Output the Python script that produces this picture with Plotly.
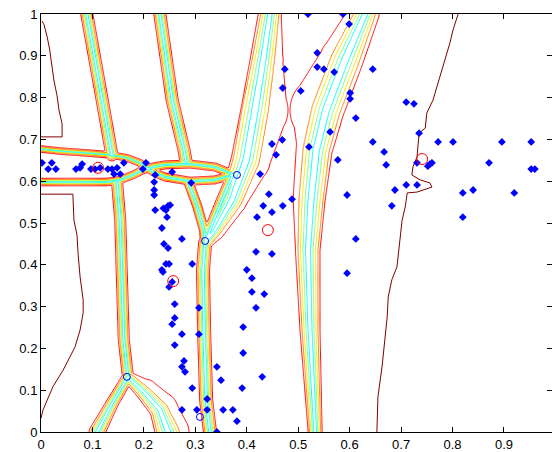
import numpy as np
import plotly.graph_objects as go

# ---------------- data ----------------
pts_x = [0.002,0.014,0.021,0.029,0.068,0.076,0.080,0.097,0.105,0.115,0.130,0.138,0.142,0.148,0.154,0.161,
         0.198,0.204,0.222,0.220,0.220,0.220,0.222,0.238,0.243,0.247,0.251,0.245,0.235,0.274,0.239,0.247,
         0.243,0.249,0.237,0.235,0.255,0.249,0.294,0.260,0.255,0.260,0.307,0.307,0.274,0.260,0.278,0.274,
         0.280,0.294,0.274,0.303,0.342,0.350,0.323,0.323,0.354,0.373,0.381,0.342,0.400,0.410,0.410,0.418,
         0.449,0.418,0.434,0.393,0.393,0.391,0.430,0.612,0.595,0.420,0.432,0.449,0.443,0.426,0.449,0.457,
         0.469,0.521,0.488,0.562,0.577,0.470,0.595,0.519,0.587,0.599,0.537,0.474,0.537,0.550,0.570,0.645,
         0.470,0.505,0.601,0.601,0.612,0.710,0.725,0.735,0.645,0.667,0.671,0.731,0.752,0.756,0.760,0.772,
         0.801,0.896,0.953,0.871,0.953,0.960,0.710,0.731,0.688,0.682,0.820,0.840,0.920,0.820,0.255,0.292]
pts_y = [0.644,0.629,0.644,0.629,0.629,0.632,0.641,0.629,0.629,0.632,0.629,0.629,0.617,0.632,0.617,0.644,
         0.629,0.644,0.615,0.598,0.579,0.567,0.531,0.535,0.531,0.541,0.543,0.514,0.488,0.462,0.450,0.440,
         0.402,0.402,0.383,0.388,0.359,0.347,0.402,0.306,0.258,0.273,0.297,0.234,0.234,0.208,0.170,0.156,
         0.144,0.105,0.053,0.053,0.156,0.124,0.079,0.053,0.053,0.053,0.026,0.000,0.388,0.368,0.335,0.297,
         0.426,0.431,0.330,0.251,0.189,0.105,0.132,0.462,0.380,0.514,0.541,0.526,0.569,0.617,0.689,0.663,
         0.699,0.682,0.557,0.718,0.651,0.541,0.567,1.000,1.000,0.976,0.907,0.868,0.873,0.868,0.861,0.868,
         0.823,0.816,0.811,0.797,0.751,0.789,0.785,0.715,0.694,0.670,0.639,0.644,0.636,0.641,0.644,0.694,
         0.694,0.694,0.694,0.644,0.629,0.629,0.591,0.591,0.579,0.541,0.572,0.579,0.572,0.514,0.622,0.596]

centers_x = [0.111, 0.257, 0.441, 0.741]
centers_y = [0.632, 0.361, 0.483, 0.653]

rings_x = [0.381, 0.319, 0.167, 0.309]
rings_y = [0.615, 0.457, 0.132, 0.036]

# outermost (dark red) iso-lines
dr1_x = [0.000,0.041,0.041,0.035,0.031,0.025,0.021,0.017,0.012,0.006,0.002]
dr1_y = [0.706,0.706,0.737,0.770,0.806,0.842,0.878,0.914,0.945,0.974,0.983]
dr2_x = [0.000,0.062,0.064,0.070,0.072,0.076,0.082,0.082,0.076,0.066,0.056,0.043,0.023,0.012,0.004,0.000]
dr2_y = [0.569,0.569,0.507,0.471,0.428,0.371,0.316,0.285,0.244,0.203,0.179,0.148,0.108,0.077,0.053,0.033]
dr3_x = [0.811,0.801,0.795,0.781,0.770,0.762,0.750,0.747,0.735,0.733,0.731,0.723,0.721,0.737,0.756,0.760,
         0.731,0.712,0.708,0.702,0.696,0.692,0.682,0.675,0.673,0.669,0.663,0.655,0.653,0.653]
dr3_y = [1.000,0.962,0.931,0.873,0.825,0.794,0.763,0.727,0.715,0.682,0.658,0.634,0.615,0.603,0.596,0.586,
         0.574,0.572,0.538,0.507,0.443,0.395,0.364,0.323,0.275,0.227,0.156,0.084,0.029,0.000]

# ridge (valley) centre lines of the contoured field, with band half-widths
# (inner colour band, red line on west/lower side, red line on east/upper side)
ridges = {
    "r1": dict(x=[0.089,0.119,0.136,0.138], y=[1.0,0.794,0.675,0.663],
               w_in=[0.0108]*4, w_neg=[0.0144]*4, w_pos=[0.0144]*4),
    "r2": dict(x=[0.231,0.255,0.278,0.282], y=[1.0,0.794,0.675,0.646],
               w_in=[0.0108]*4, w_neg=[0.0144]*4, w_pos=[0.0144]*4),
    "upper": dict(x=[0.000,0.037,0.095,0.134,0.167,0.192,0.218,0.241,0.290,0.338,0.373],
                  y=[0.677,0.672,0.667,0.663,0.656,0.644,0.622,0.610,0.600,0.603,0.615],
                  w_in=[0.0048,0.0048,0.0048,0.0048,0.0048,0.0055,0.006,0.0065,0.0065,0.0065,0.006],
                  w_neg=[0.0078,0.0078,0.0078,0.0078,0.0078,0.0085,0.009,0.0095,0.0095,0.0095,0.009],
                  w_pos=[0.0078,0.0078,0.0078,0.0078,0.0078,0.0085,0.009,0.0095,0.0095,0.0095,0.009]),
    "lower": dict(x=[0.000,0.062,0.128,0.154,0.179,0.198,0.218,0.241,0.290,0.338,0.373],
                  y=[0.598,0.598,0.598,0.603,0.615,0.627,0.634,0.639,0.641,0.634,0.617],
                  w_in=[0.006,0.006,0.006,0.006,0.006,0.0065,0.0065,0.0065,0.0065,0.0065,0.006],
                  w_neg=[0.009,0.009,0.009,0.009,0.009,0.0095,0.0095,0.0095,0.0095,0.0095,0.009],
                  w_pos=[0.009,0.009,0.009,0.009,0.009,0.0095,0.0095,0.0095,0.0095,0.0095,0.009]),
    "r3": dict(x=[0.148,0.154,0.158,0.161,0.169], y=[0.596,0.507,0.340,0.220,0.132],
               w_in=[0.0096]*5, w_neg=[0.0132]*5, w_pos=[0.0132]*5),
    "r3l": dict(x=[0.169,0.140,0.109], y=[0.132,0.072,0.0],
                w_in=[0.0096,0.0108,0.0144], w_neg=[0.0132,0.0144,0.0191], w_pos=[0.0132,0.0144,0.0191]),
    "r3r": dict(x=[0.169,0.202,0.231,0.247], y=[0.132,0.093,0.053,0.0],
                w_in=[0.0096,0.0144,0.0191,0.0263], w_neg=[0.0132,0.0191,0.0239,0.031],
                w_pos=[0.0132,0.0335,0.0431,0.05]),
    "r4": dict(x=[0.319,0.315,0.317,0.321,0.3285], y=[0.452,0.388,0.244,0.077,0.0],
               w_in=[0.012]*5, w_neg=[0.0156]*5, w_pos=[0.0156]*5),
    "r5": dict(x=[0.288,0.303,0.317,0.319], y=[0.593,0.543,0.483,0.452],
               w_in=[0.0084]*4, w_neg=[0.0108]*4, w_pos=[0.0108]*4),
    "r6": dict(x=[0.373,0.352,0.3285,0.319], y=[0.615,0.555,0.483,0.452],
               w_in=[0.0096]*4, w_neg=[0.0132]*4, w_pos=[0.0132]*4),
    "fan": dict(x=[0.445,0.432,0.416,0.399,0.371,0.338,0.319], y=[1.0,0.89,0.770,0.651,0.555,0.483,0.452],
                w_in=[0.0215,0.0263,0.0311,0.0311,0.0239,0.0144,0.012],
                w_neg=[0.0275,0.0311,0.0335,0.0359,0.0287,0.0191,0.0156],
                w_pos=[0.0275,0.0478,0.079,0.0574,0.0359,0.0239,0.0156]),
    "right": dict(x=[0.630,0.591,0.554,0.535,0.525,0.519,0.523,0.533], y=[1.0,0.89,0.770,0.675,0.555,0.435,0.244,0.0],
                  w_in=[0.0239,0.0335,0.0335,0.0311,0.0287,0.0239,0.0191,0.0132],
                  w_neg=[0.04,0.06,0.086,0.048,0.043,0.03,0.024,0.0167],
                  w_pos=[0.0335,0.0431,0.0431,0.0383,0.0335,0.0287,0.0239,0.0167]),
}

# ---------------- field built from the ridge lines ----------------
ASPECT = 514.4 / 418.0
XMAX = 0.9934
gx = np.linspace(0, XMAX, 520)
gy = np.linspace(0, 1, 430)
X, Y = np.meshgrid(gx, gy)
Xs = X * ASPECT
Z = np.full(X.shape, 0.95)

for r in ridges.values():
    xs = np.array(r["x"]) * ASPECT
    ys = np.array(r["y"])
    wi_, wn_, wp_ = (np.array(r[k]) for k in ("w_in", "w_neg", "w_pos"))
    for i in range(len(xs) - 1):
        ax, ay, bx, by = xs[i], ys[i], xs[i + 1], ys[i + 1]
        dx, dy = bx - ax, by - ay
        L2 = dx * dx + dy * dy
        t = np.clip(((Xs - ax) * dx + (Y - ay) * dy) / L2, 0, 1)
        ox = Xs - (ax + t * dx)
        oy = Y - (ay + t * dy)
        d = np.hypot(ox, oy)
        cross = dx * oy - dy * ox
        wi = wi_[i] + t * (wi_[i + 1] - wi_[i])
        wr = np.where(cross > 0, wp_[i] + t * (wp_[i + 1] - wp_[i]), wn_[i] + t * (wn_[i + 1] - wn_[i]))
        z = np.where(d <= wi, 0.25 + 0.5 * d / wi,
                     0.75 + 0.125 * (d - wi) / np.maximum(wr - wi, 1e-6))
        Z = np.minimum(Z, z)

Z = np.minimum(Z, 0.95).astype(np.float32)

# line colours of the levels 0.375 .. 0.875 (cyan, light green, yellow, orange, red)
level_scale = [[0, "rgb(0,255,255)"], [0.25, "rgb(128,255,128)"], [0.5, "rgb(255,230,0)"],
               [0.75, "rgb(255,128,0)"], [1, "rgb(255,0,0)"]]

fig = go.Figure()
fig.add_trace(go.Contour(x=gx, y=gy, z=Z, colorscale=level_scale, showscale=False,
                         contours=dict(start=0.375, end=0.875, size=0.125, coloring="lines"),
                         line=dict(width=1), hoverinfo="skip"))

for lx, ly in ((dr1_x, dr1_y), (dr2_x, dr2_y), (dr3_x, dr3_y)):
    fig.add_trace(go.Scatter(x=lx, y=ly, mode="lines", line=dict(color="#800000", width=1),
                             hoverinfo="skip"))

fig.add_trace(go.Scatter(x=rings_x, y=rings_y, mode="markers",
                         marker=dict(symbol="circle-open", size=7, color="#0000ff", line=dict(width=1))))
fig.add_trace(go.Scatter(x=pts_x, y=pts_y, mode="markers",
                         marker=dict(symbol="diamond", size=6, color="#0000ff")))
fig.add_trace(go.Scatter(x=centers_x, y=centers_y, mode="markers",
                         marker=dict(symbol="circle-open", size=11, color="#ff0000", line=dict(width=1))))

axis_common = dict(showgrid=False, zeroline=False, showline=True, linecolor="black", linewidth=1,
                   mirror="ticks", ticks="inside", ticklen=5, tickcolor="black",
                   tickfont=dict(family="Liberation Sans, Arial, sans-serif", size=13, color="black"))
fig.update_xaxes(range=[0, XMAX], tickvals=[0, 0.1, 0.2, 0.3, 0.4, 0.5, 0.6, 0.7, 0.8, 0.9],
                 ticktext=["0", "0.1", "0.2", "0.3", "0.4", "0.5", "0.6", "0.7", "0.8", "0.9"], **axis_common)
fig.update_yaxes(range=[0, 1], tickvals=[0, 0.1, 0.2, 0.3, 0.4, 0.5, 0.6, 0.7, 0.8, 0.9, 1],
                 ticktext=["0", "0.1", "0.2", "0.3", "0.4", "0.5", "0.6", "0.7", "0.8", "0.9", "1"], **axis_common)
fig.update_layout(width=552, height=452, margin=dict(l=41, r=0, t=14, b=20),
                  paper_bgcolor="white", plot_bgcolor="white", showlegend=False)
fig.write_html("out.html")
